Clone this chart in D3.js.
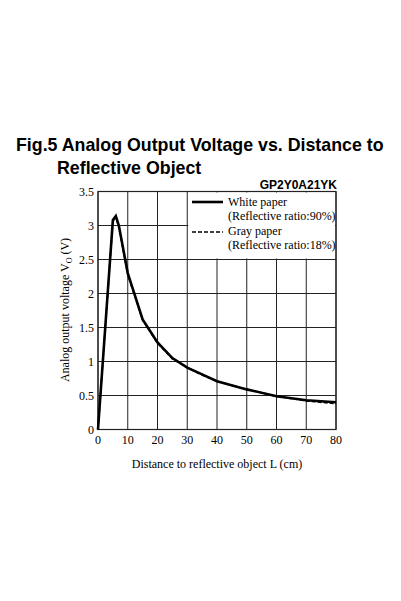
<!DOCTYPE html><html><head><meta charset="utf-8"><script src="https://cdn.jsdelivr.net/npm/d3@7"></script>
<style>body{margin:0;background:#fff}</style></head><body><svg id="c" width="401" height="601"></svg>
<script>
const distances=[0,5,6,7,10,15,20,25,30,35,40,50,60,70,80];
const white=[0,3.08,3.14,3.0,2.3,1.62,1.28,1.05,0.91,0.81,0.71,0.59,0.49,0.43,0.40];
const gray=[0,3.06,3.12,2.98,2.28,1.61,1.27,1.04,0.91,0.80,0.71,0.59,0.49,0.42,0.38];
const xTicks=[0,10,20,30,40,50,60,70,80];
const yTicks=[0,0.5,1,1.5,2,2.5,3,3.5];
const svg=d3.select("#c");
const x=d3.scaleLinear().domain([0,80]).range([98,336]);
const y=d3.scaleLinear().domain([0,3.5]).range([429.5,191.5]);
const g=svg.append("g");
xTicks.forEach(t=>g.append("line").attr("x1",x(t)).attr("x2",x(t)).attr("y1",y(0)).attr("y2",y(3.5)).attr("stroke","#222").attr("stroke-width",1));
yTicks.forEach(t=>g.append("line").attr("x1",x(0)).attr("x2",x(80)).attr("y1",y(t)).attr("y2",y(t)).attr("stroke","#222").attr("stroke-width",1));
g.append("rect").attr("x",x(30)+1).attr("y",y(3.5)+1).attr("width",x(80)-x(30)-2).attr("height",y(2.5)-y(3.5)-2).attr("fill","#fff");
g.append("rect").attr("x",x(0)).attr("y",y(3.5)).attr("width",x(80)-x(0)).attr("height",y(0)-y(3.5)).attr("fill","none").attr("stroke","#222").attr("stroke-width",1.2);
const serif="'Liberation Serif','DejaVu Serif',serif";
xTicks.forEach(t=>g.append("text").attr("x",x(t)).attr("y",y(0)+14).attr("text-anchor","middle").attr("font-family",serif).attr("font-size",12).text(t));
yTicks.forEach(t=>g.append("text").attr("x",x(0)-4).attr("y",y(t)+4).attr("text-anchor","end").attr("font-family",serif).attr("font-size",12).text(t));
const line=d3.line().x((d,i)=>x(distances[i])).y(d=>y(d));
g.append("path").attr("d",line(gray)).attr("fill","none").attr("stroke","#000").attr("stroke-width",1.6).attr("stroke-dasharray","4,2");
g.append("path").attr("d",line(white)).attr("fill","none").attr("stroke","#000").attr("stroke-width",2.6);
g.append("line").attr("x1",192).attr("x2",223).attr("y1",202).attr("y2",202).attr("stroke","#000").attr("stroke-width",2.6);
g.append("line").attr("x1",192).attr("x2",223).attr("y1",232).attr("y2",232).attr("stroke","#000").attr("stroke-width",1.6).attr("stroke-dasharray","4,2");
[["White paper",206],["(Reflective ratio:90%)",220],["Gray paper",235],["(Reflective ratio:18%)",249]].forEach(([s,yy])=>g.append("text").attr("x",228).attr("y",yy).attr("font-family",serif).attr("font-size",12).text(s));
const sans="'Liberation Sans',Arial,sans-serif";
svg.append("text").attr("x",16).attr("y",151).attr("font-family",sans).attr("font-weight","bold").attr("font-size",17.8).text("Fig.5 Analog Output Voltage vs. Distance to");
svg.append("text").attr("x",57).attr("y",174).attr("font-family",sans).attr("font-weight","bold").attr("font-size",17.8).text("Reflective Object");
svg.append("text").attr("x",337).attr("y",189).attr("text-anchor","end").attr("font-family",sans).attr("font-weight","bold").attr("font-size",12).text("GP2Y0A21YK");
svg.append("text").attr("x",217).attr("y",468).attr("text-anchor","middle").attr("font-family",serif).attr("font-size",12).text("Distance to reflective object L (cm)");
const yl=svg.append("text").attr("transform","translate(69,310) rotate(-90)").attr("text-anchor","middle").attr("font-family",serif).attr("font-size",12);
yl.append("tspan").text("Analog output voltage V");
yl.append("tspan").attr("font-size",8).attr("dy",3).text("O");
yl.append("tspan").attr("dy",-3).text(" (V)");
</script></body></html>
